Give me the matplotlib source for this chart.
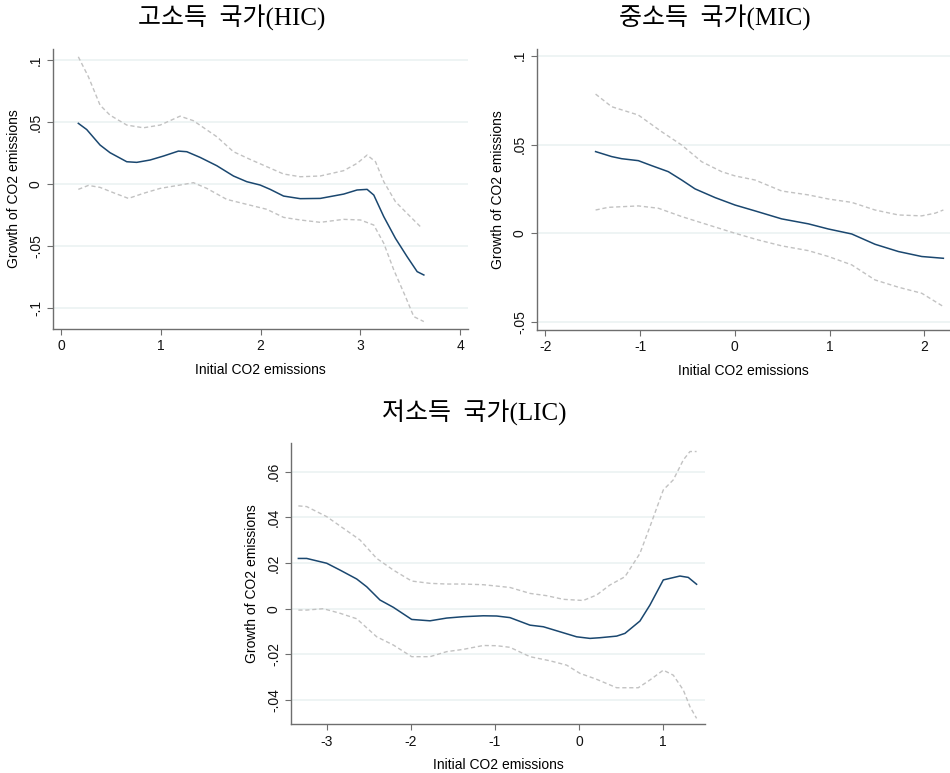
import matplotlib
matplotlib.use("Agg")
import matplotlib.pyplot as plt
from matplotlib.ticker import FixedLocator

plt.rcParams['font.family'] = ['Liberation Sans', 'DejaVu Sans']

# 고소득 국가(HIC)
hic_x = [0.171, 0.255, 0.389, 0.489, 0.657, 0.757, 0.891, 1.025, 1.175, 1.259, 1.393, 1.560,
         1.727, 1.861, 1.995, 2.096, 2.230, 2.397, 2.598, 2.833, 2.967, 3.068, 3.135, 3.235,
         3.352, 3.469, 3.570, 3.637]
hic_y = [0.049, 0.044, 0.0315, 0.0253, 0.018, 0.0175, 0.0194, 0.0226, 0.0266, 0.0261, 0.0215, 0.0148,
         0.0065, 0.0019, -0.0008, -0.0043, -0.0097, -0.0118, -0.0116, -0.0081, -0.0048, -0.0043,
         -0.0089, -0.0263, -0.0438, -0.0586, -0.0707, -0.0734]
hic_up_x = [0.171, 0.272, 0.389, 0.489, 0.657, 0.824, 0.992, 1.192, 1.326, 1.560, 1.727, 1.894,
            2.062, 2.230, 2.397, 2.598, 2.833, 2.967, 3.068, 3.152, 3.235, 3.352, 3.469, 3.620]
hic_up = [0.1027, 0.0866, 0.0637, 0.0556, 0.0476, 0.0454, 0.0476, 0.0548, 0.0511, 0.0382, 0.0261, 0.0199,
          0.0140, 0.0081, 0.0059, 0.0065, 0.0108, 0.0167, 0.0234, 0.0180, 0.0019, -0.0142, -0.0237, -0.0358]
hic_lo_x = [0.171, 0.272, 0.389, 0.523, 0.674, 0.824, 0.992, 1.192, 1.326, 1.460, 1.660, 1.861,
            2.062, 2.230, 2.397, 2.598, 2.833, 3.001, 3.135, 3.235, 3.336, 3.453, 3.536, 3.637]
hic_lo = [-0.0043, -0.0011, -0.0027, -0.0070, -0.0116, -0.0075, -0.0035, -0.0008, 0.0011, -0.0035, -0.0124, -0.0164,
          -0.0204, -0.0269, -0.0290, -0.0309, -0.0285, -0.0290, -0.0331, -0.0478, -0.0694, -0.0909, -0.1070, -0.1110]

# 중소득 국가(MIC)
mic_x = [-1.469, -1.300, -1.194, -1.018, -0.878, -0.702, -0.561, -0.420, -0.209, 0.002, 0.213, 0.494,
         0.776, 0.987, 1.233, 1.479, 1.726, 1.972, 2.200]
mic_y = [0.046, 0.0432, 0.0420, 0.0409, 0.0381, 0.0347, 0.0300, 0.0250, 0.0201, 0.0159, 0.0126, 0.0081,
         0.0053, 0.0024, -0.0004, -0.0062, -0.0103, -0.0131, -0.0141]
mic_up_x = [-1.469, -1.300, -1.018, -0.772, -0.561, -0.350, -0.139, 0.002, 0.213, 0.494, 0.776, 0.987,
            1.233, 1.479, 1.726, 1.972, 2.113, 2.200]
mic_up = [0.0784, 0.0713, 0.0666, 0.0572, 0.0497, 0.0403, 0.0347, 0.0323, 0.0300, 0.0238, 0.0216, 0.0193,
          0.0174, 0.0131, 0.0103, 0.0098, 0.0113, 0.0131]
mic_lo_x = [-1.469, -1.335, -1.018, -0.807, -0.561, -0.280, 0.002, 0.248, 0.494, 0.776, 0.987, 1.233,
            1.479, 1.726, 1.972, 2.200]
mic_lo = [0.0131, 0.0146, 0.0154, 0.0141, 0.0094, 0.0047, 0.0, -0.0038, -0.0071, -0.0098, -0.0131, -0.0178,
          -0.0263, -0.0304, -0.0338, -0.0413]

# 저소득 국가(LIC)
lic_x = [-3.337, -3.238, -3.0, -2.841, -2.643, -2.524, -2.366, -2.207, -1.989, -1.771, -1.573, -1.375,
         -1.137, -0.978, -0.820, -0.582, -0.423, -0.225, -0.027, 0.132, 0.251, 0.449, 0.548, 0.726,
         0.845, 1.004, 1.202, 1.301, 1.400]
lic_y = [0.0220, 0.0220, 0.0199, 0.0169, 0.0130, 0.0096, 0.0038, 0.0006, -0.0047, -0.0053, -0.0041, -0.0035,
         -0.0031, -0.0032, -0.0039, -0.0072, -0.0079, -0.0101, -0.0123, -0.0130, -0.0127, -0.0120, -0.0108, -0.0054,
         0.0016, 0.0126, 0.0143, 0.0137, 0.0107]
lic_up_x = [-3.337, -3.238, -3.0, -2.802, -2.604, -2.405, -2.207, -1.989, -1.771, -1.573, -1.375, -1.137,
            -0.978, -0.820, -0.582, -0.384, -0.185, 0.052, 0.211, 0.370, 0.548, 0.726, 0.845, 1.004,
            1.123, 1.242, 1.321, 1.400]
lic_up = [0.0450, 0.0447, 0.0403, 0.0352, 0.0301, 0.0220, 0.0169, 0.0121, 0.0111, 0.0108, 0.0108, 0.0105,
          0.0099, 0.0093, 0.0067, 0.0057, 0.0041, 0.0036, 0.0060, 0.0104, 0.0140, 0.0242, 0.0359, 0.0520,
          0.0564, 0.0651, 0.0688, 0.0688]
lic_lo_x = [-3.337, -3.238, -3.040, -2.841, -2.643, -2.405, -2.207, -1.989, -1.771, -1.573, -1.375, -1.137,
            -0.978, -0.820, -0.582, -0.344, -0.146, 0.012, 0.211, 0.449, 0.706, 0.845, 1.004, 1.123,
            1.242, 1.321, 1.400]
lic_lo = [-0.0006, -0.0006, 0.0, -0.0020, -0.0044, -0.0123, -0.0159, -0.0210, -0.0210, -0.0188, -0.0178, -0.0161,
          -0.0162, -0.0169, -0.0210, -0.0228, -0.0247, -0.0283, -0.0309, -0.0346, -0.0346, -0.0312, -0.0269, -0.0291,
          -0.0356, -0.0429, -0.0480]

W, H = 950, 773
fig = plt.figure(figsize=(W / 100, H / 100), dpi=100)

AXIS_GREY = "#6e6e6e"
CI_GREY = "#c2c2c2"


def make_panel(rect, title, title_xy, xs, ys, ux, uy, lx, ly,
               xlim, ylim, xticks, yticks, ylabels):
    ax = fig.add_axes(rect)
    for t in yticks:
        ax.axhline(t, color="#edf3f3", lw=1.3, zorder=0)
    ax.plot(ux, uy, color=CI_GREY, lw=1.0, ls=(0, (3, 2)))
    ax.plot(lx, ly, color=CI_GREY, lw=1.0, ls=(0, (3, 2)))
    ax.plot(xs, ys, color="#1a476f", lw=1.1)
    ax.set_xlim(*xlim)
    ax.set_ylim(*ylim)
    ax.xaxis.set_major_locator(FixedLocator(xticks))
    ax.set_xticklabels([str(v) for v in xticks])
    ax.yaxis.set_major_locator(FixedLocator(yticks))
    ax.set_yticklabels(ylabels, rotation=90, va="center")
    ax.spines["top"].set_visible(False)
    ax.spines["right"].set_visible(False)
    for s in ("left", "bottom"):
        ax.spines[s].set_color(AXIS_GREY)
        ax.spines[s].set_linewidth(1.0)
    ax.tick_params(length=4, width=0.8, color=AXIS_GREY, labelsize=10, labelcolor="#111111")
    ax.set_xlabel("Initial CO2 emissions", fontsize=10, labelpad=7)
    ax.set_ylabel("Growth of CO2 emissions", fontsize=10, labelpad=6)
    fig.text(title_xy[0], title_xy[1], title, ha="center", va="center", fontsize=18,
             family=["Liberation Serif", "Noto Sans CJK KR"])
    return ax


make_panel([53.3 / W, 1 - 329 / H, (468 - 53.3) / W, (329 - 49) / H],
           "고소득  국가(HIC)", (232 / W, 1 - 18 / H),
           hic_x, hic_y, hic_up_x, hic_up, hic_lo_x, hic_lo,
           (-0.08, 4.08), (-0.117, 0.109), [0, 1, 2, 3, 4],
           [-0.1, -0.05, 0, 0.05, 0.1], ["-.1", "-.05", "0", ".05", ".1"])

make_panel([537.3 / W, 1 - 330 / H, (950 - 537.3) / W, (330 - 49) / H],
           "중소득  국가(MIC)", (715 / W, 1 - 18 / H),
           mic_x, mic_y, mic_up_x, mic_up, mic_lo_x, mic_lo,
           (-2.084, 2.27), (-0.0545, 0.1038), [-2, -1, 0, 1, 2],
           [-0.05, 0, 0.05, 0.1], ["-.05", "0", ".05", ".1"])

make_panel([291.3 / W, 1 - 724.3 / H, (705 - 291.3) / W, (724.3 - 443.3) / H],
           "저소득  국가(LIC)", (474 / W, 1 - 413 / H),
           lic_x, lic_y, lic_up_x, lic_up, lic_lo_x, lic_lo,
           (-3.421, 1.5), (-0.0506, 0.0724), [-3, -2, -1, 0, 1],
           [-0.04, -0.02, 0, 0.02, 0.04, 0.06], ["-.04", "-.02", "0", ".02", ".04", ".06"])

fig.savefig("out.png", dpi=100)
